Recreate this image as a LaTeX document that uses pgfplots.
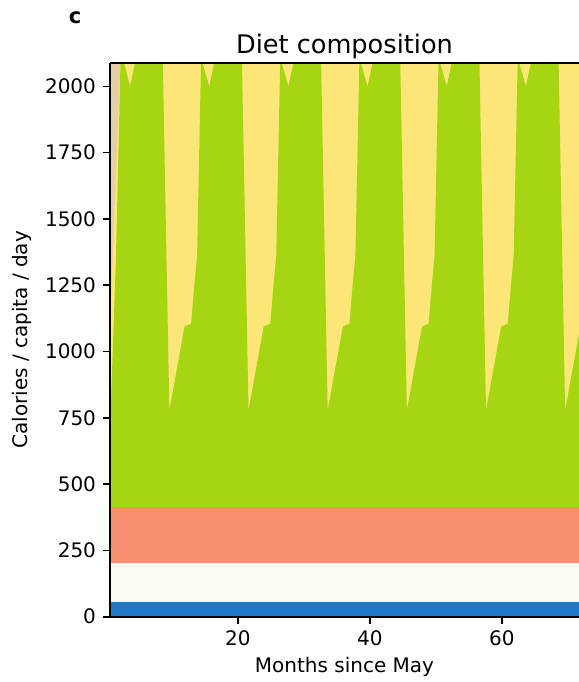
\documentclass[border=0pt]{standalone}
\usepackage{fontspec}
\setmainfont{DejaVu Sans}
\usepackage{pgfplots}
\pgfplotsset{compat=1.18}
\definecolor{cblue}{RGB}{31,120,200}
\definecolor{ccream}{RGB}{252,253,244}
\definecolor{csalmon}{RGB}{248,142,112}
\definecolor{cgreen}{RGB}{166,214,18}
\definecolor{cyellow}{RGB}{253,230,120}
\definecolor{ctan}{RGB}{230,206,166}
\begin{document}
\begin{tikzpicture}
\begin{axis}[
  at={(0,0)}, anchor=south west,
  width=234.5bp, height=276.85bp, scale only axis,
  xmin=0.6, xmax=71.7, ymin=0, ymax=2088,
  axis x line*=bottom, axis y line*=left,
  axis line style={-, line width=0.9bp, black},
  tick align=outside, major tick length=3.5bp,
  tick style={line width=0.8bp, black},
  xtick={20,40,60}, ytick={0,250,...,2000},
  scaled y ticks=false,
  /pgf/number format/assume math mode=true,
  /pgf/number format/1000 sep={},
  tick label style={font=\fontsize{10bp}{12bp}\selectfont},
  xlabel={Months since May}, ylabel={Calories / capita / day},
  label style={font=\fontsize{10bp}{12bp}\selectfont},
  xlabel style={at={([yshift=-25bp]axis description cs:0.5,0)}, anchor=center},
  ylabel style={at={([xshift=-44bp]axis description cs:0,0.5)}, anchor=center},
  title={Diet composition},
  title style={at={([yshift=2.5bp]axis description cs:0.5,1)}, anchor=center, font=\fontsize{12.8bp}{15bp}\selectfont},
  axis on top,
]
% tan (top layer, cumulative top)
\addplot[fill=ctan, draw=none] table {
x y
0.6 2100
72.9 2100
} \closedcycle;
% yellow (cumulative top)
\addplot[fill=cyellow, draw=none] table {
x y
0.6 1100
2.2 2100
72.9 2100
} \closedcycle;
% green (cumulative top)
\addplot[fill=cgreen, draw=none] table {
x y
0.6 700
1.5 1350
2.2 2100
2.6 2100
3.65 2000
4.5 2100
8.6 2100
9.6 778
11.9 1094
12.9 1105
13.4 1255
13.8 1360
14.4 2090
14.5 2100
15.65 2000
16.5 2100
20.6 2100
21.6 778
23.9 1094
24.9 1105
25.4 1255
25.8 1360
26.4 2090
26.5 2100
27.65 2000
28.5 2100
32.6 2100
33.6 778
35.9 1094
36.9 1105
37.4 1255
37.8 1360
38.4 2090
38.5 2100
39.65 2000
40.5 2100
44.6 2100
45.6 778
47.9 1094
48.9 1105
49.4 1255
49.8 1360
50.4 2090
50.5 2100
51.65 2000
52.5 2100
56.6 2100
57.6 778
59.9 1094
60.9 1105
61.4 1255
61.8 1360
62.4 2090
62.5 2100
63.65 2000
64.5 2100
68.6 2100
69.6 778
71.9 1094
72.9 1105
} \closedcycle;
% salmon
\addplot[fill=csalmon, draw=none] table {
x y
0.6 414
72.9 414
} \closedcycle;
% cream
\addplot[fill=ccream, draw=none] table {
x y
0.6 201
72.9 201
} \closedcycle;
% blue
\addplot[fill=cblue, draw=none] table {
x y
0.6 56
72.9 56
} \closedcycle;
\end{axis}
\draw[line width=0.9bp, black] (0,276.85bp) -- (240bp,276.85bp);
\node[font=\bfseries\fontsize{10.5bp}{12bp}\selectfont] at (-17.5bp,299.35bp) {c};
\pgfresetboundingbox
\useasboundingbox (-55bp,-32.65bp) rectangle (234.5bp,308.35bp);
\end{tikzpicture}
\end{document}
